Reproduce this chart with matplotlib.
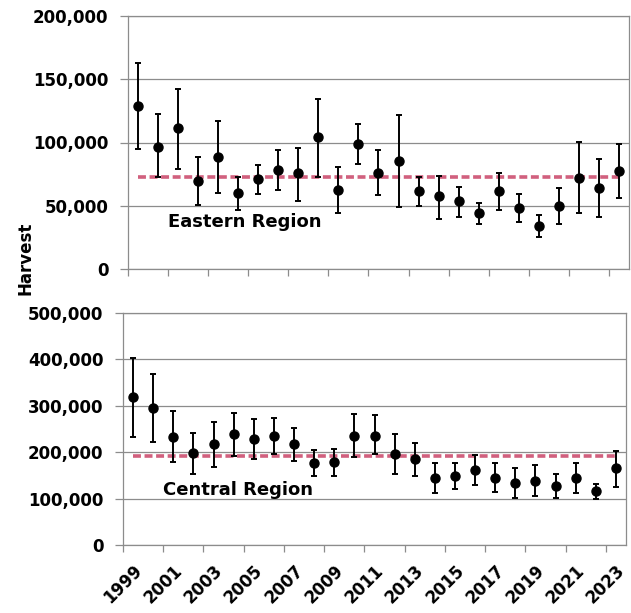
import matplotlib.pyplot as plt
from matplotlib.ticker import FuncFormatter, MultipleLocator, FixedLocator

years = list(range(1999, 2024))

# Eastern Region harvest estimates with lower / upper confidence limits
east_harvest = [129000, 96500, 111500, 69500, 88500, 60000, 71000, 78500, 76000, 104500,
                62500, 99000, 76000, 85500, 62000, 57500, 54000, 44500, 62000, 48500,
                34000, 50000, 72000, 64000, 77500]
east_lower = [95000, 72500, 79000, 50500, 60000, 46500, 59500, 62500, 54000, 72500,
              44500, 83000, 58500, 49000, 50000, 39500, 41000, 35500, 46500, 37000,
              25500, 35500, 44500, 41000, 56000]
east_upper = [163000, 122500, 142500, 88500, 117000, 72500, 82000, 94000, 95500, 134500,
              80500, 114500, 94000, 121500, 72500, 73500, 65000, 52000, 76000, 59500,
              42500, 64000, 100500, 87000, 99000]
east_mean = 72700

# Central Region
central_harvest = [319000, 295000, 232500, 198500, 217500, 239000, 228500, 235000, 217500, 176500,
                   179000, 235000, 235000, 196000, 185500, 144500, 148500, 161500, 144500, 133500,
                   138000, 127000, 144500, 116500, 166000]
central_lower = [232500, 222000, 179000, 153000, 168000, 192000, 185500, 196000, 181000, 148500,
                 148500, 189500, 196000, 153000, 148500, 112000, 120500, 129500, 114000, 101500,
                 105500, 101500, 112000, 99000, 125000]
central_upper = [403000, 368500, 289000, 241500, 265000, 284500, 271500, 273500, 252000, 204500,
                 207000, 282500, 280000, 239000, 220000, 176500, 176500, 194000, 176500, 166000,
                 172500, 153000, 176500, 131500, 202500]
central_mean = 192000

label_years = years[::2]

GRID = '#8c8c8c'
MEAN_COLOR = '#cc4f70'
plt.rcParams['font.family'] = 'DejaVu Sans'
plt.rcParams['font.weight'] = 'bold'

fig = plt.figure(figsize=(6.31, 6.13), dpi=100)
ax1 = fig.add_axes([128 / 631, 1 - 269 / 613, 501 / 631, 253 / 613])
ax2 = fig.add_axes([123 / 631, 1 - 545 / 613, 503 / 631, 232 / 613])


def draw_panel(ax, harvest, lower, upper, mean, ymax, step, name, name_y):
    yerr = [[h - lo for h, lo in zip(harvest, lower)],
            [hi - h for h, hi in zip(harvest, upper)]]
    ax.plot([years[0], years[-1]], [mean, mean], color=MEAN_COLOR, lw=2.6,
            dashes=(2.2, 1.0), alpha=0.9, zorder=2)
    ax.errorbar(years, harvest, yerr=yerr, fmt='o', color='black', ms=6.5,
                elinewidth=1.4, capsize=2.3, capthick=1.4, zorder=3)
    ax.set_xlim(years[0] - 0.5, years[-1] + 0.5)
    ax.set_ylim(0, ymax)
    ax.yaxis.set_major_locator(MultipleLocator(step))
    ax.yaxis.set_major_formatter(FuncFormatter(lambda v, p: f'{int(v):,}'))
    ax.grid(axis='y', color=GRID, lw=0.9)
    ax.set_axisbelow(True)
    for s in ax.spines.values():
        s.set_color(GRID)
        s.set_linewidth(0.9)
    ax.xaxis.set_major_locator(FixedLocator(label_years))
    ax.xaxis.set_minor_locator(FixedLocator([y - 0.5 for y in label_years]))
    ax.tick_params(axis='x', which='major', length=0, pad=12)
    ax.tick_params(axis='x', which='minor', length=5, color=GRID, width=0.9)
    ax.tick_params(axis='y', length=6, color=GRID, width=0.9, pad=8, labelsize=12)
    ax.text(2000.5, name_y, name, fontsize=13, fontweight='bold', ha='left', va='center')


draw_panel(ax1, east_harvest, east_lower, east_upper, east_mean, 200000, 50000,
           'Eastern Region', 37000)
draw_panel(ax2, central_harvest, central_lower, central_upper, central_mean, 500000, 100000,
           'Central Region', 118500)

ax1.set_xticklabels([])
ax2.set_xticklabels([str(y) for y in label_years], rotation=45, ha='right',
                    rotation_mode='anchor', fontsize=12)

fig.text(25 / 631, 1 - 258 / 613, 'Harvest', rotation=90, ha='center', va='center',
         fontsize=12, fontweight='bold')

fig.savefig('out.png', dpi=100, facecolor='white')
